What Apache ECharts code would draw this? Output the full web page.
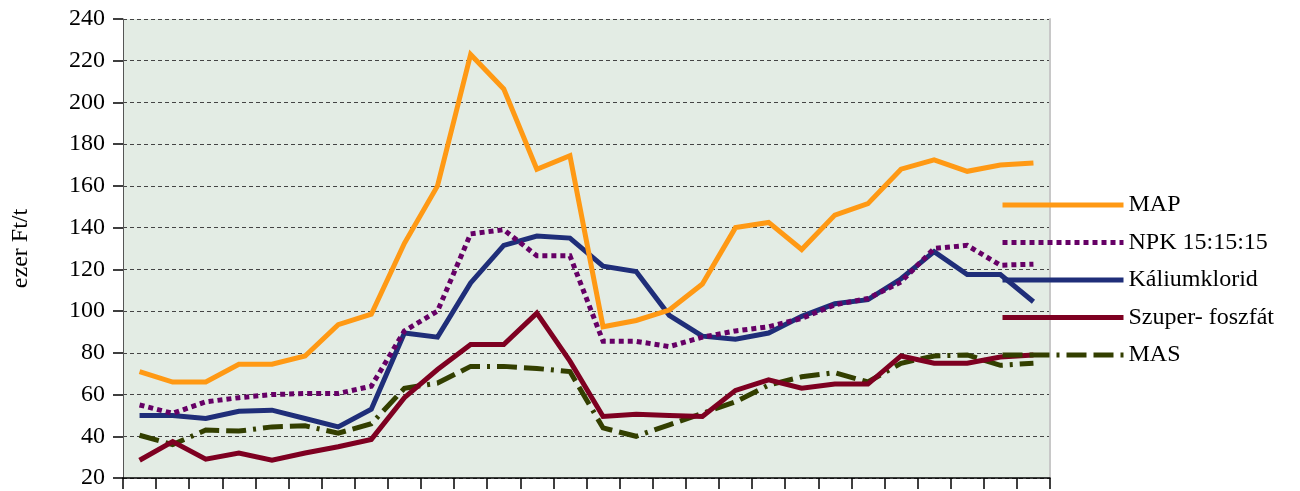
<!DOCTYPE html>
<html>
<head>
<meta charset="utf-8">
<script src="https://cdn.jsdelivr.net/npm/echarts@6/dist/echarts.min.js"></script>
<style>
  html, body { margin: 0; padding: 0; background: #fff; }
  #chart { width: 1300px; height: 491px; }
</style>
</head>
<body>
<div id="chart"></div>
<script>
// 28 időszak, címkék nélkül
const periods = Array.from({ length: 28 }, (_, i) => '')

const seriesNames = ['MAP', 'NPK 15:15:15', 'Káliumklorid', 'Szuper- foszfát', 'MAS']

const mapValues = [71, 66, 66, 74.5, 74.5, 78.5, 93.5, 98.5, 132.5, 160, 223, 206.5, 168, 174.5, 92.5, 95.5, 100.5, 113, 140, 142.5, 129.5, 146, 151.5, 168, 172.5, 167, 170, 171]
const npkValues = [55, 51, 56.5, 58.5, 60, 60.5, 60.5, 64, 90.5, 100, 137, 139, 126.5, 126.5, 85.5, 85.5, 83, 87.5, 90.5, 92.5, 96.5, 103, 106, 114, 130, 131.5, 122, 122.5]
const kaliumValues = [50, 50, 48.5, 52, 52.5, 48.5, 44.5, 53, 89.5, 87.5, 113.5, 131.5, 136, 135, 121.5, 119, 98, 88, 86.5, 89.5, 97.5, 103.5, 105.5, 115.5, 128.5, 117.5, 117.5, 104.5]
const szuperValues = [28.5, 37.5, 29, 32, 28.5, 32, 35, 38.5, 58.5, 72, 84, 84, 99, 76, 49.5, 50.5, 50, 49.5, 62, 67, 63, 65, 65, 78.5, 75, 75, 78, 79]
const masValues = [40.5, 36, 43, 42.5, 44.5, 45, 41.5, 46, 63, 65.5, 73.5, 73.5, 72.5, 71, 44, 40, 45.5, 51, 56.5, 64.5, 68.5, 70.5, 66, 75, 78.5, 79, 74, 75]

const colors = ['#FF9914', '#660066', '#1F2E79', '#7E0021', '#333F00']
const lineTypes = ['solid', [5, 4], 'solid', 'solid', [20, 7, 20, 7, 3, 7]]
const allValues = [mapValues, npkValues, kaliumValues, szuperValues, masValues]

const font = 'Liberation Serif, Times New Roman, serif'

const chart = echarts.init(document.getElementById('chart'))

const option = {
  animation: false,
  grid: {
    left: 123,
    right: 250,
    top: 19,
    bottom: 13,
    show: true,
    backgroundColor: '#E3ECE4',
    borderWidth: 0
  },
  legend: {
    orient: 'vertical',
    left: 995,
    top: 188,
    itemWidth: 121,
    itemHeight: 14,
    itemGap: 13.5,
    itemStyle: { opacity: 0 },
    lineStyle: { width: 5, cap: 'butt' },
    textStyle: { fontFamily: font, fontSize: 24, color: '#000' },
    data: seriesNames
  },
  xAxis: {
    type: 'category',
    data: periods,
    boundaryGap: true,
    axisLine: { lineStyle: { color: '#000', width: 1.5 } },
    axisTick: { show: true, length: 11, lineStyle: { color: '#000', width: 1.5 } },
    axisLabel: { show: false },
    splitLine: { show: false }
  },
  yAxis: [
    {
      type: 'value',
      min: 20,
      max: 240,
      interval: 20,
      name: 'ezer Ft/t',
      nameLocation: 'middle',
      nameGap: 90,
      nameTextStyle: { fontFamily: font, fontSize: 24, color: '#000' },
      axisLine: { show: true, lineStyle: { color: '#555', width: 1 } },
      axisTick: { show: true, length: 10, lineStyle: { color: '#000', width: 1.5 } },
      axisLabel: { fontFamily: font, fontSize: 24, color: '#000', margin: 18 },
      splitLine: { show: true, lineStyle: { color: '#444', width: 1, type: [4, 3] } }
    },
    {
      // jobb oldali szürke keret
      type: 'value',
      min: 20,
      max: 240,
      position: 'right',
      axisLine: { show: true, lineStyle: { color: '#C8C8C8', width: 2 } },
      axisTick: { show: false },
      axisLabel: { show: false },
      splitLine: { show: false }
    }
  ],
  series: seriesNames.map((name, i) => ({
    name,
    type: 'line',
    data: allValues[i],
    symbol: 'none',
    lineStyle: {
      color: colors[i],
      width: 5,
      type: lineTypes[i],
      cap: 'butt',
      join: 'miter'
    },
    itemStyle: { color: colors[i] },
    z: 5 - i
  }))
}

chart.setOption(option)
</script>
</body>
</html>
